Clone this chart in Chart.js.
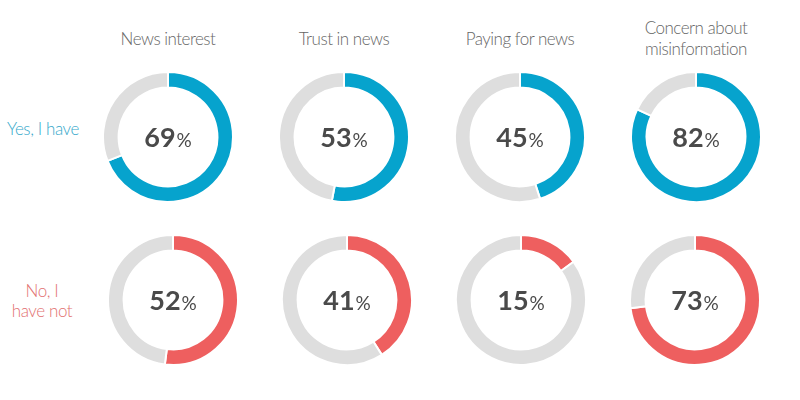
<!DOCTYPE html>
<html lang="en">
<head>
  <meta charset="UTF-8">
  <title>News habits donuts</title>
  <script src="https://cdn.jsdelivr.net/npm/chart.js"></script>
  <style>
    body {
      margin: 0;
      background: #fff;
      font-family: Lato, "Open Sans", sans-serif;
    }
    #wrap {
      position: relative;
      width: 800px;
      height: 400px;
      overflow: hidden;
    }
    .donut {
      position: absolute;
      width: 132px;
      height: 132px;
    }
    .title {
      position: absolute;
      top: 17px;
      width: 200px;
      height: 42px;
      display: flex;
      align-items: center;
      justify-content: center;
      text-align: center;
      color: #666;
      font-size: 17px;
      font-weight: 300;
      line-height: 21px;
      letter-spacing: -0.5px;
    }
    .rowlabel {
      position: absolute;
      width: 90px;
      text-align: center;
      font-size: 17px;
      font-weight: 300;
      line-height: 20px;
      letter-spacing: -0.4px;
    }
  </style>
</head>
<body>
  <div id="wrap"></div>

  <script>
    // values
    const topics = ["News interest", "Trust in news", "Paying for news", "Concern about\nmisinformation"];
    const groups = ["Yes, I have", "No, I\nhave not"];
    const yesValues = [69, 53, 45, 82];
    const noValues = [52, 41, 15, 73];

    const blue = "#06a3cd";
    const red = "#ee5f5f";
    const grey = "#dedede";

    // where each donut sits (centre x per row, centre y per row)
    const colX = [[168, 344, 520, 696], [173, 347, 521, 695]];
    const rowY = [137, 300];

    const wrap = document.getElementById("wrap");

    topics.forEach((t, i) => {
      const d = document.createElement("div");
      d.className = "title";
      d.style.left = (colX[0][i] - 100) + "px";
      d.innerHTML = t.replace("\n", "<br>");
      wrap.appendChild(d);
    });

    const labelPos = [{ x: 43, y: 119, color: "#36a9cb" }, { x: 42, y: 281, color: "#e27171" }];
    groups.forEach((g, i) => {
      const d = document.createElement("div");
      d.className = "rowlabel";
      d.style.left = (labelPos[i].x - 45) + "px";
      d.style.top = labelPos[i].y + "px";
      d.style.color = labelPos[i].color;
      d.innerHTML = g.replace("\n", "<br>");
      wrap.appendChild(d);
    });

    const centerText = {
      id: "centerText",
      afterDraw(chart) {
        const ctx = chart.ctx;
        const meta = chart.getDatasetMeta(0).data[0];
        const cx = meta.x, cy = meta.y;
        const num = String(chart.data.datasets[0].data[0]);
        ctx.save();
        ctx.font = "bold 27px Lato";
        const w1 = ctx.measureText(num).width;
        ctx.font = "19px Lato";
        const w2 = ctx.measureText("%").width;
        const x0 = cx - (w1 + w2 + 1) / 2;
        ctx.fillStyle = "#4a4a4a";
        ctx.textBaseline = "alphabetic";
        ctx.textAlign = "left";
        ctx.font = "bold 27px Lato";
        ctx.fillText(num, x0, cy + 9.5);
        ctx.font = "19px Lato";
        ctx.fillText("%", x0 + w1 + 1, cy + 9.5);
        ctx.restore();
      }
    };

    function makeDonut(value, color, cx, cy) {
      const c = document.createElement("canvas");
      const box = document.createElement("div");
      box.className = "donut";
      box.style.left = (cx - 66) + "px";
      box.style.top = (cy - 66) + "px";
      box.appendChild(c);
      wrap.appendChild(box);
      new Chart(c, {
        type: "doughnut",
        data: {
          labels: ["yes", "rest"],
          datasets: [{
            data: [value, 100 - value],
            backgroundColor: [color, grey],
            borderColor: "#fff",
            borderWidth: 2
          }]
        },
        options: {
          responsive: true,
          maintainAspectRatio: false,
          animation: false,
          cutout: "76%",
          layout: { padding: 0 },
          plugins: { legend: { display: false }, tooltip: { enabled: false } }
        },
        plugins: [centerText]
      });
    }

    yesValues.forEach((v, i) => makeDonut(v, blue, colX[0][i], rowY[0]));
    noValues.forEach((v, i) => makeDonut(v, red, colX[1][i], rowY[1]));
  </script>
</body>
</html>
